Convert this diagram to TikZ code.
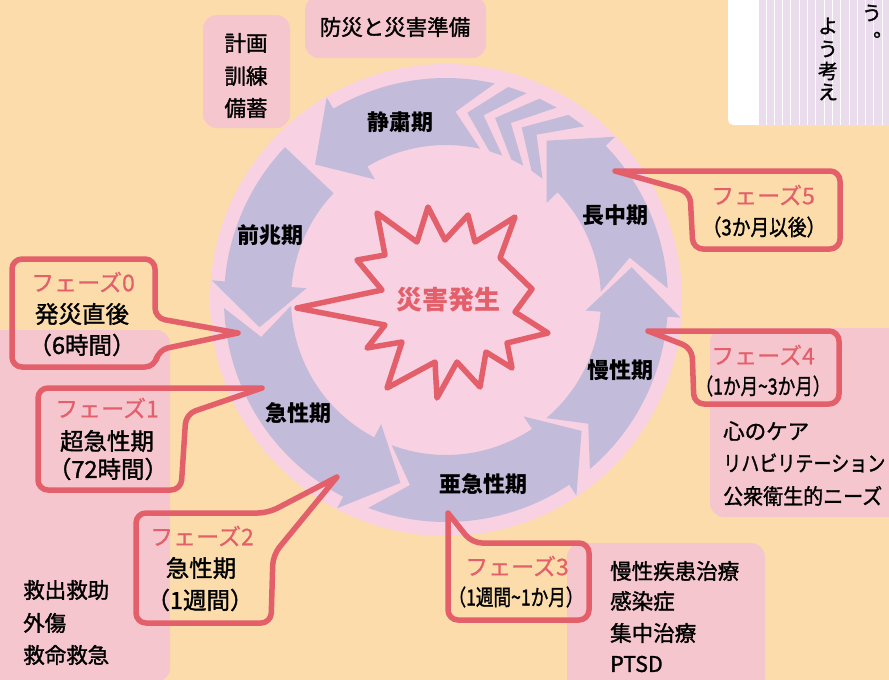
\documentclass[tikz,border=0pt]{standalone}
\usepackage{fontspec}
\usepackage{graphicx}
\setmainfont{Noto Sans CJK JP}
\newfontfamily\jpm{Noto Sans CJK JP}[FakeBold=1.4]
\newfontfamily\jpr{Noto Sans CJK JP}[FakeBold=0.6]
\definecolor{peach}{HTML}{FBDCAA}
\definecolor{pinkc}{HTML}{F8D1E2}
\definecolor{lav}{HTML}{C3BBDA}
\definecolor{redc}{HTML}{E3606B}
\definecolor{pinkbox}{HTML}{F6C6CF}
\definecolor{lilac}{HTML}{EADCEC}
\newcommand\fsz[1]{\fontsize{#1}{#1}\selectfont}
\newcommand\ringarrow[4]{\fill[lav] (#1:222pt) arc[start angle=#1, end angle=#3, radius=222pt] -- (#3:235pt) -- (#4:188.5pt) -- (#3:140pt) -- (#3:155pt) arc[start angle=#3, end angle=#1, radius=155pt] -- (#2:188.5pt) -- cycle;}
\newcommand\chev[1]{\fill[lav] ({#1-9.8}:222pt) -- (#1:188.5pt) -- ({#1-9.8}:155pt) -- ({#1-4.8}:155pt) -- ({#1+5}:188.5pt) -- ({#1-4.8}:222pt) -- cycle;}
\begin{document}
\begin{tikzpicture}[x=1pt,y=1pt,
  ringlbl/.style={font=\fsz{22}\bfseries, inner sep=0pt},
  boxtxt/.style={font=\jpm\fsz{21.5}, inner sep=0pt, anchor=west},
  phase/.style={font=\jpr\fsz{23}, text=redc, inner sep=0pt},
  blk/.style={font=\jpm\fsz{23.5}, inner sep=0pt},
  narrow/.style={font=\jpm\fsz{22}, inner sep=0pt},
  callout/.style={draw=redc, line width=5.5pt, rounded corners=10pt, line cap=round, line join=round},
  infobox/.style={fill=pinkbox, rounded corners=14pt},
  vt/.style={font=\jpm\fsz{20}, inner sep=0pt}]
\useasboundingbox (0,0) rectangle (889,-680);
\fill[peach] (0,0) rectangle (889,-680);
% top-right panel
\fill[white, rounded corners=5pt] (728,20) rectangle (900,-125);
\fill[lilac] (759,0) rectangle (889,-125);
\foreach \i in {0,...,15} \draw[white, line width=0.9pt] ({766+8.3*\i},0) -- ({766+8.3*\i},-125);
\node[vt] (v1) at (828,-26) {よ};
\node[vt] (v2) at (828,-49) {う};
\node[vt] (v3) at (828,-71) {考};
\node[vt] (v4) at (828,-92) {え};
\node[vt] (v5) at (872,-13) {う};
\node[vt] (v6) at (871,-40) {︒};
% info boxes
\fill[infobox] (203,-15) rectangle (290,-128);
\fill[infobox] (305,4) rectangle (486,-58);
\fill[infobox] (-20,-330) rectangle (170,-682);
\fill[infobox] (710,-328) rectangle (905,-517);
\fill[infobox] (567,-543) rectangle (765,-700);
\node[boxtxt, anchor=center] (b1) at (246,-43) {計画};
\node[boxtxt, anchor=center] (b2) at (246,-76) {訓練};
\node[boxtxt, anchor=center] (b3) at (246,-108) {備蓄};
\node[boxtxt, anchor=center] (b4) at (395,-27) {防災と災害準備};
\node[boxtxt] (l1) at (23,-590) {救出救助};
\node[boxtxt] (l2) at (23,-623) {外傷};
\node[boxtxt] (l3) at (23,-655) {救命救急};
\node[boxtxt] (r1) at (723,-431) {心のケア};
\node[boxtxt] (r2) at (723,-463) {\scalebox{0.84}[1]{リハビリテーション}};
\node[boxtxt] (r3) at (723,-496) {\scalebox{0.93}[1]{公衆衛生的ニーズ}};
\node[boxtxt] (m1) at (610,-571) {慢性疾患治療};
\node[boxtxt] (m2) at (610,-601) {感染症};
\node[boxtxt] (m3) at (610,-633) {集中治療};
\node[boxtxt] (m4) at (610,-664) {PTSD};
% circle and ring
\fill[pinkc] (446,-300) circle[radius=236];
\begin{scope}[shift={(446,-300)}]
\ringarrow{136.5}{136.5}{175.2}{188.3}
\ringarrow{182.1}{191.3}{242.4}{256}
\ringarrow{249.5}{259}{303.7}{316}
\ringarrow{310.4}{319}{355.7}{370}
\ringarrow{363}{373}{404}{417.7}
\chev{61.3}
\chev{69.9}
\chev{78.5}
\ringarrow{77.3}{87.1}{120.5}{134}
\end{scope}
% burst
\draw[draw=redc, fill=pinkc, line width=5.5pt, line join=round]
 (377,-213) -- (417,-242) -- (428,-207) -- (445,-240) -- (468,-215) -- (475,-242) -- (515,-217) -- (500,-258) -- (532,-289) -- (515,-312) -- (548,-333) -- (507,-343) -- (512,-368) -- (486,-352) -- (480,-387) -- (457,-362) -- (437,-398) -- (435,-362) -- (387,-388) -- (402,-342) -- (367,-348) -- (385,-325) -- (297,-308) -- (382,-290) -- (357,-260) -- (385,-255) -- cycle;
\node[font=\fsz{26}\bfseries, text=redc, inner sep=0pt] (burst) at (448,-300) {災害発生};
% ring labels
\node[ringlbl] (p1) at (400,-122) {静粛期};
\node[ringlbl] (p2) at (270,-235) {前兆期};
\node[ringlbl] (p3) at (298,-413) {急性期};
\node[ringlbl] (p4) at (483,-484) {亜急性期};
\node[ringlbl] (p5) at (620,-370) {慢性期};
\node[ringlbl] (p6) at (615,-215) {長中期};
% callouts
\draw[callout] (238,-333) -- (155,-318) -- (155,-259) -- (12,-259) -- (12,-367) -- (155,-367) -- (158,-350) -- (238,-333);
\draw[callout] (262,-388) -- (38,-388) -- (38,-490) -- (181,-490) -- (186,-414) -- (262,-388);
\draw[callout] (337,-477) -- (268,-513) -- (136,-513) -- (136,-623) -- (271,-623) -- (273,-555) -- (337,-477);
\draw[callout] (448,-513) -- (448,-620) -- (589,-620) -- (589,-543) -- (472,-543) -- (448,-513);
\draw[callout] (648,-331) -- (839,-331) -- (839,-404) -- (694,-404) -- (692,-348) -- (648,-331);
\draw[callout] (615,-171) -- (840,-171) -- (840,-249) -- (693,-249) -- (690,-192) -- (615,-171);
% callout texts
\node[phase] (f0) at (83,-282) {フェーズ0};
\node[blk] (f0a) at (82,-314) {発災直後};
\node[blk] (f0b) at (82,-345) {（6時間）};
\node[phase] (f1) at (107,-408) {フェーズ1};
\node[blk] (f1a) at (107,-441) {超急性期};
\node[blk] (f1b) at (108,-469) {（72時間）};
\node[phase] (f2) at (202,-536) {フェーズ2};
\node[blk] (f2a) at (201,-568) {急性期};
\node[blk] (f2b) at (200,-600) {（1週間）};
\node[phase] (f3) at (517,-566) {フェーズ3};
\node[narrow] (f3a) at (516,-597) {\scalebox{0.8}[1]{（1週間\textasciitilde 1か月）}};
\node[phase] (f4) at (763,-355) {フェーズ4};
\node[narrow] (f4a) at (763,-386) {\scalebox{0.8}[1]{（1か月\textasciitilde 3か月）}};
\node[phase] (f5) at (763,-195) {フェーズ5};
\node[narrow] (f5a) at (764,-227) {\scalebox{0.85}[1]{（3か月以後）}};
\end{tikzpicture}
\end{document}
